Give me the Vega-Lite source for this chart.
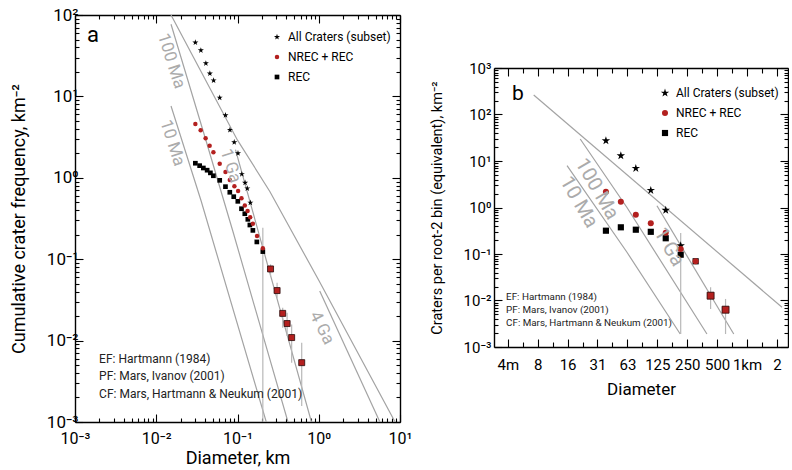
{
  "$schema": "https://vega.github.io/schema/vega-lite/v6.json",
  "padding": {"left": 10, "top": 6, "right": 0, "bottom": 0},
  "background": "white",
  "config": {
    "font": "Roboto",
    "view": {"stroke": null},
    "axis": {"grid": false, "domainColor": "#000", "domainWidth": 1.4, "tickColor": "#000", "tickWidth": 1.1, "labelColor": "#000", "titleColor": "#000", "titleFontWeight": "normal", "labelOverlap": false, "labelFlush": false},
    "text": {"font": "Roboto"}
  },
  "spacing": 17,
  "resolve": {
    "scale": {"x": "independent", "y": "independent", "color": "independent", "shape": "independent", "size": "independent"},
    "legend": {"color": "independent", "shape": "independent", "size": "independent"},
    "axis": {"x": "independent", "y": "independent"}
  },
  "datasets": {
    "a_pts": [
      {"set": "All Craters (subset)", "D": 0.0303, "N": 45.9},
      {"set": "All Craters (subset)", "D": 0.0354, "N": 36.8},
      {"set": "All Craters (subset)", "D": 0.0408, "N": 25.5},
      {"set": "All Craters (subset)", "D": 0.0457, "N": 19.1},
      {"set": "All Craters (subset)", "D": 0.0508, "N": 15.7},
      {"set": "All Craters (subset)", "D": 0.0604, "N": 9.64},
      {"set": "All Craters (subset)", "D": 0.0711, "N": 5.86},
      {"set": "All Craters (subset)", "D": 0.0807, "N": 3.87},
      {"set": "All Craters (subset)", "D": 0.0912, "N": 2.73},
      {"set": "All Craters (subset)", "D": 0.1014, "N": 2.0},
      {"set": "All Craters (subset)", "D": 0.113, "N": 1.11},
      {"set": "All Craters (subset)", "D": 0.124, "N": 0.869},
      {"set": "All Craters (subset)", "D": 0.132, "N": 0.739},
      {"set": "All Craters (subset)", "D": 0.144, "N": 0.494},
      {"set": "REC", "D": 0.0303, "N": 1.51},
      {"set": "REC", "D": 0.0342, "N": 1.41},
      {"set": "REC", "D": 0.038, "N": 1.32},
      {"set": "REC", "D": 0.0423, "N": 1.24},
      {"set": "REC", "D": 0.0464, "N": 1.15},
      {"set": "REC", "D": 0.0505, "N": 1.06},
      {"set": "REC", "D": 0.0604, "N": 0.931},
      {"set": "REC", "D": 0.0711, "N": 0.778},
      {"set": "REC", "D": 0.0804, "N": 0.664},
      {"set": "REC", "D": 0.0899, "N": 0.586},
      {"set": "REC", "D": 0.1009, "N": 0.514},
      {"set": "REC", "D": 0.112, "N": 0.417},
      {"set": "REC", "D": 0.123, "N": 0.362},
      {"set": "REC", "D": 0.134, "N": 0.309},
      {"set": "REC", "D": 0.142, "N": 0.263},
      {"set": "REC", "D": 0.1546, "N": 0.226},
      {"set": "REC", "D": 0.173, "N": 0.163},
      {"set": "REC", "D": 0.205, "N": 0.124},
      {"set": "REC", "D": 0.255, "N": 0.0759},
      {"set": "REC", "D": 0.307, "N": 0.0412},
      {"set": "REC", "D": 0.36, "N": 0.0216},
      {"set": "REC", "D": 0.408, "N": 0.0162},
      {"set": "REC", "D": 0.464, "N": 0.0109},
      {"set": "REC", "D": 0.617, "N": 0.00536},
      {"set": "NREC + REC", "D": 0.0303, "N": 4.58},
      {"set": "NREC + REC", "D": 0.0352, "N": 3.84},
      {"set": "NREC + REC", "D": 0.0405, "N": 3.06},
      {"set": "NREC + REC", "D": 0.0454, "N": 2.48},
      {"set": "NREC + REC", "D": 0.0505, "N": 2.06},
      {"set": "NREC + REC", "D": 0.0604, "N": 1.49},
      {"set": "NREC + REC", "D": 0.0711, "N": 1.18},
      {"set": "NREC + REC", "D": 0.0804, "N": 0.94},
      {"set": "NREC + REC", "D": 0.0916, "N": 0.787},
      {"set": "NREC + REC", "D": 0.1017, "N": 0.689},
      {"set": "NREC + REC", "D": 0.112, "N": 0.56},
      {"set": "NREC + REC", "D": 0.123, "N": 0.457},
      {"set": "NREC + REC", "D": 0.133, "N": 0.391},
      {"set": "NREC + REC", "D": 0.1433, "N": 0.327},
      {"set": "NREC + REC", "D": 0.1546, "N": 0.273},
      {"set": "NREC + REC", "D": 0.174, "N": 0.193},
      {"set": "NREC + REC", "D": 0.205, "N": 0.136},
      {"set": "NREC + REC", "D": 0.255, "N": 0.0759},
      {"set": "NREC + REC", "D": 0.307, "N": 0.0412},
      {"set": "NREC + REC", "D": 0.36, "N": 0.0216},
      {"set": "NREC + REC", "D": 0.408, "N": 0.0162},
      {"set": "NREC + REC", "D": 0.464, "N": 0.0109},
      {"set": "NREC + REC", "D": 0.617, "N": 0.00536}
    ],
    "a_err": [
      {"D": 0.205, "lo": 0.0003, "hi": 0.244},
      {"D": 0.255, "lo": 0.0622, "hi": 0.0865},
      {"D": 0.307, "lo": 0.0336, "hi": 0.0514},
      {"D": 0.36, "lo": 0.0144, "hi": 0.0254},
      {"D": 0.408, "lo": 0.0114, "hi": 0.022},
      {"D": 0.464, "lo": 0.00535, "hi": 0.0158},
      {"D": 0.617, "lo": 0.00157, "hi": 0.00942}
    ],
    "a_iso": [
      {"curve": "EF", "D": 0.0152, "N": 100},
      {"curve": "EF", "D": 0.1, "N": 2.9},
      {"curve": "EF", "D": 0.25, "N": 0.68},
      {"curve": "EF", "D": 1.0, "N": 0.055},
      {"curve": "EF", "D": 8.7, "N": 0.001},
      {"curve": "10 Ma", "D": 0.0152, "N": 7.62},
      {"curve": "10 Ma", "D": 0.0357, "N": 0.519},
      {"curve": "10 Ma", "D": 0.226, "N": 0.001},
      {"curve": "100 Ma", "D": 0.0152, "N": 77},
      {"curve": "100 Ma", "D": 0.0411, "N": 2.83},
      {"curve": "100 Ma", "D": 0.0875, "N": 0.222},
      {"curve": "100 Ma", "D": 0.418, "N": 0.001},
      {"curve": "1 Ga", "D": 0.0944, "N": 2.22},
      {"curve": "1 Ga", "D": 0.205, "N": 0.138},
      {"curve": "1 Ga", "D": 0.813, "N": 0.001},
      {"curve": "4 Ga", "D": 1.028, "N": 0.0407},
      {"curve": "4 Ga", "D": 5.66, "N": 0.001}
    ],
    "a_iso_lbl": [
      {"t": "100 Ma", "D": 0.0153, "N": 27.2},
      {"t": "10 Ma", "D": 0.0158, "N": 2.68},
      {"t": "1 Ga", "D": 0.082, "N": 1.4},
      {"t": "4 Ga", "D": 1.089, "N": 0.0143}
    ],
    "a_notes": [
      {"t": "EF: Hartmann (1984)", "D": 0.00198, "N": 0.00594},
      {"t": "PF: Mars, Ivanov (2001)", "D": 0.00198, "N": 0.00367},
      {"t": "CF: Mars, Hartmann & Neukum (2001)", "D": 0.00198, "N": 0.00223}
    ],
    "a_tag": [{"t": "a", "D": 0.00167, "N": 56.8}],
    "b_pts": [
      {"set": "All Craters (subset)", "D": 0.038, "N": 27.3},
      {"set": "All Craters (subset)", "D": 0.0537, "N": 13.0},
      {"set": "All Craters (subset)", "D": 0.076, "N": 6.96},
      {"set": "All Craters (subset)", "D": 0.1075, "N": 2.34},
      {"set": "All Craters (subset)", "D": 0.152, "N": 0.875},
      {"set": "All Craters (subset)", "D": 0.215, "N": 0.151},
      {"set": "REC", "D": 0.038, "N": 0.317},
      {"set": "REC", "D": 0.0537, "N": 0.375},
      {"set": "REC", "D": 0.076, "N": 0.333},
      {"set": "REC", "D": 0.1075, "N": 0.3},
      {"set": "REC", "D": 0.152, "N": 0.218},
      {"set": "REC", "D": 0.215, "N": 0.0966},
      {"set": "REC", "D": 0.304, "N": 0.0697},
      {"set": "REC", "D": 0.43, "N": 0.0127},
      {"set": "REC", "D": 0.608, "N": 0.00634},
      {"set": "NREC + REC", "D": 0.038, "N": 2.19},
      {"set": "NREC + REC", "D": 0.0537, "N": 1.33},
      {"set": "NREC + REC", "D": 0.076, "N": 0.697},
      {"set": "NREC + REC", "D": 0.1075, "N": 0.457},
      {"set": "NREC + REC", "D": 0.152, "N": 0.286},
      {"set": "NREC + REC", "D": 0.215, "N": 0.128},
      {"set": "NREC + REC", "D": 0.304, "N": 0.0697},
      {"set": "NREC + REC", "D": 0.43, "N": 0.0127},
      {"set": "NREC + REC", "D": 0.608, "N": 0.00634}
    ],
    "b_err": [
      {"D": 0.215, "lo": 0.0019, "hi": 0.283},
      {"D": 0.304, "lo": 0.062, "hi": 0.078},
      {"D": 0.43, "lo": 0.00656, "hi": 0.0192},
      {"D": 0.608, "lo": 0.0019, "hi": 0.0108}
    ],
    "b_iso": [
      {"curve": "EF", "D": 0.00713, "N": 262},
      {"curve": "EF", "D": 2.25, "N": 0.00714},
      {"curve": "10 Ma", "D": 0.01544, "N": 7.92},
      {"curve": "10 Ma", "D": 0.0619, "N": 0.109},
      {"curve": "10 Ma", "D": 0.2127, "N": 0.0019},
      {"curve": "100 Ma", "D": 0.02095, "N": 29.7},
      {"curve": "100 Ma", "D": 0.0619, "N": 1.0},
      {"curve": "100 Ma", "D": 0.395, "N": 0.0019},
      {"curve": "1 Ga", "D": 0.124, "N": 1.09},
      {"curve": "1 Ga", "D": 0.735, "N": 0.0019}
    ],
    "b_iso_lbl": [
      {"t": "100 Ma", "D": 0.0309, "N": 2.5},
      {"t": "10 Ma", "D": 0.0203, "N": 1.31},
      {"t": "1 Ga", "D": 0.164, "N": 0.1416}
    ],
    "b_notes": [
      {"t": "EF: Hartmann (1984)", "D": 0.00376, "N": 0.0121},
      {"t": "PF: Mars, Ivanov (2001)", "D": 0.00376, "N": 0.00625},
      {"t": "CF: Mars, Hartmann & Neukum (2001)", "D": 0.00376, "N": 0.00328}
    ],
    "b_tag": [{"t": "b", "D": 0.00495, "N": 276}]
  },
  "hconcat": [
    {
      "width": 325,
      "height": 407,
      "resolve": {"axis": {"x": "independent", "y": "independent"}},
      "layer": [
        {
          "data": {"name": "a_iso"},
          "mark": {"type": "line", "color": "#a3a3a3", "strokeWidth": 1.2, "clip": true},
          "encoding": {
            "x": {"field": "D", "type": "quantitative", "scale": {"type": "log", "domain": [0.001, 10], "nice": false},
              "axis": {"orient": "bottom", "values": [0.001, 0.01, 0.1, 1, 10], "labelExpr": "'10' + ['⁻³','⁻²','⁻¹','⁰','¹'][round(log(datum.value)/LN10)+3]", "tickSize": -8, "labelPadding": 16, "labelFontSize": 16, "title": "Diameter, km", "titleFontSize": 18, "titlePadding": 3}},
            "y": {"field": "N", "type": "quantitative", "scale": {"type": "log", "domain": [0.001, 100], "nice": false},
              "axis": {"orient": "left", "values": [0.001, 0.01, 0.1, 1, 10, 100], "labelExpr": "'10' + ['⁻³','⁻²','⁻¹','⁰','¹','²'][round(log(datum.value)/LN10)+3]", "tickSize": -8, "labelPadding": 5, "labelFontSize": 17, "title": "Cumulative crater frequency, km⁻²", "titleFontSize": 18, "titlePadding": 18}},
            "detail": {"field": "curve"}
          }
        },
        {
          "data": {"name": "a_err"},
          "mark": {"type": "rule", "color": "#b8b8b8", "strokeWidth": 1.2, "clip": true},
          "encoding": {
            "x": {"field": "D", "type": "quantitative", "scale": {"type": "log", "domain": [0.001, 10], "nice": false},
              "axis": {"orient": "bottom", "values": [0.002,0.003,0.004,0.005,0.006,0.007,0.008,0.009,0.02,0.03,0.04,0.05,0.06,0.07,0.08,0.09,0.2,0.3,0.4,0.5,0.6,0.7,0.8,0.9,2,3,4,5,6,7,8,9], "labels": false, "domain": false, "tickSize": -4, "title": null}},
            "y": {"field": "lo", "type": "quantitative", "scale": {"type": "log", "domain": [0.001, 100], "nice": false},
              "axis": {"orient": "left", "values": [0.002,0.003,0.004,0.005,0.006,0.007,0.008,0.009,0.02,0.03,0.04,0.05,0.06,0.07,0.08,0.09,0.2,0.3,0.4,0.5,0.6,0.7,0.8,0.9,2,3,4,5,6,7,8,9,20,30,40,50,60,70,80,90], "labels": false, "domain": false, "tickSize": -4, "title": null}},
            "y2": {"field": "hi"}
          }
        },
        {
          "data": {"name": "a_pts"},
          "mark": {"type": "point", "filled": true, "opacity": 1, "strokeWidth": 0},
          "encoding": {
            "x": {"field": "D", "type": "quantitative", "scale": {"type": "log", "domain": [0.001, 10], "nice": false},
              "axis": {"orient": "top", "values": [0.001, 0.01, 0.1, 1, 10], "labels": false, "tickSize": -8, "title": null}},
            "y": {"field": "N", "type": "quantitative", "scale": {"type": "log", "domain": [0.001, 100], "nice": false},
              "axis": {"orient": "right", "values": [0.001, 0.01, 0.1, 1, 10, 100], "labels": false, "tickSize": -8, "title": null}},
            "color": {"field": "set", "type": "nominal",
              "scale": {"domain": ["All Craters (subset)", "NREC + REC", "REC"], "range": ["#000000", "#b3201f", "#000000"]},
              "legend": {"title": null, "orient": "none", "legendX": 196, "legendY": 16, "symbolSize": 53, "labelFontSize": 12, "labelOffset": 5, "rowPadding": 8, "padding": 0, "symbolStrokeWidth": 0, "labelColor": "#000"}},
            "shape": {"field": "set", "type": "nominal",
              "scale": {"domain": ["All Craters (subset)", "NREC + REC", "REC"], "range": ["M0,-1.5L0.337,-0.464L1.427,-0.464L0.545,0.177L0.882,1.214L0,0.573L-0.882,1.214L-0.545,0.177L-1.427,-0.464L-0.337,-0.464Z", "circle", "square"]},
              "legend": {"title": null, "orient": "none", "legendX": 196, "legendY": 16, "symbolSize": 53, "labelFontSize": 12, "labelOffset": 5, "rowPadding": 8, "padding": 0, "symbolStrokeWidth": 0, "labelColor": "#000"}},
            "size": {"field": "set", "type": "ordinal",
              "scale": {"domain": ["All Craters (subset)", "NREC + REC", "REC"], "range": [18, 22, 24]}, "legend": null}
          }
        },
        {
          "data": {"name": "a_pts"},
          "transform": [{"filter": "datum.set == 'REC' && datum.D > 0.24"}],
          "mark": {"type": "point", "shape": "square", "filled": true, "color": "#b3201f", "size": 36, "stroke": "#2a0a0a", "strokeWidth": 0.8, "opacity": 1},
          "encoding": {
            "x": {"field": "D", "type": "quantitative", "scale": {"type": "log", "domain": [0.001, 10], "nice": false},
              "axis": {"orient": "top", "values": [0.002,0.003,0.004,0.005,0.006,0.007,0.008,0.009,0.02,0.03,0.04,0.05,0.06,0.07,0.08,0.09,0.2,0.3,0.4,0.5,0.6,0.7,0.8,0.9,2,3,4,5,6,7,8,9], "labels": false, "domain": false, "tickSize": -4, "title": null}},
            "y": {"field": "N", "type": "quantitative", "scale": {"type": "log", "domain": [0.001, 100], "nice": false},
              "axis": {"orient": "right", "values": [0.002,0.003,0.004,0.005,0.006,0.007,0.008,0.009,0.02,0.03,0.04,0.05,0.06,0.07,0.08,0.09,0.2,0.3,0.4,0.5,0.6,0.7,0.8,0.9,2,3,4,5,6,7,8,9,20,30,40,50,60,70,80,90], "labels": false, "domain": false, "tickSize": -4, "title": null}}
          }
        },
        {
          "data": {"name": "a_iso_lbl"},
          "transform": [{"filter": "datum.t != '4 Ga'"}],
          "mark": {"type": "text", "angle": 72, "fontSize": 17, "color": "#ababab", "align": "center", "baseline": "middle"},
          "encoding": {
            "x": {"field": "D", "type": "quantitative", "axis": null},
            "y": {"field": "N", "type": "quantitative", "axis": null},
            "text": {"field": "t"}
          }
        },
        {
          "data": {"name": "a_iso_lbl"},
          "transform": [{"filter": "datum.t == '4 Ga'"}],
          "mark": {"type": "text", "angle": 63, "fontSize": 17, "color": "#ababab", "align": "center", "baseline": "middle"},
          "encoding": {
            "x": {"field": "D", "type": "quantitative", "axis": null},
            "y": {"field": "N", "type": "quantitative", "axis": null},
            "text": {"field": "t"}
          }
        },
        {
          "data": {"name": "a_notes"},
          "mark": {"type": "text", "fontSize": 12, "color": "#222", "align": "left", "baseline": "middle"},
          "encoding": {
            "x": {"field": "D", "type": "quantitative", "axis": null},
            "y": {"field": "N", "type": "quantitative", "axis": null},
            "text": {"field": "t"}
          }
        },
        {
          "data": {"name": "a_tag"},
          "mark": {"type": "text", "fontSize": 22, "color": "#000", "align": "center", "baseline": "middle"},
          "encoding": {
            "x": {"field": "D", "type": "quantitative", "axis": null},
            "y": {"field": "N", "type": "quantitative", "axis": null},
            "text": {"field": "t"}
          }
        }
      ]
    },
    {
      "spacing": 0,
      "resolve": {
        "scale": {"x": "independent", "y": "independent", "color": "independent", "shape": "independent", "size": "independent"},
        "legend": {"color": "independent", "shape": "independent", "size": "independent"},
        "axis": {"x": "independent", "y": "independent"}
      },
      "vconcat": [
        {
          "width": 294,
          "height": 46,
          "data": {"values": []},
          "mark": {"type": "point", "opacity": 0}
        },
        {
          "width": 294,
          "height": 279,
          "resolve": {"axis": {"x": "independent", "y": "independent"}},
          "layer": [
            {
              "data": {"name": "b_iso"},
              "mark": {"type": "line", "color": "#a3a3a3", "strokeWidth": 1.2, "clip": true},
              "encoding": {
                "x": {"field": "D", "type": "quantitative", "scale": {"type": "log", "base": 2, "domain": [0.00284, 2.585], "nice": false},
                  "axis": {"orient": "bottom", "values": [0.00390625, 0.0078125, 0.015625, 0.03125, 0.0625, 0.125, 0.25, 0.5, 1, 2], "labelExpr": "['4m','8','16','31','63','125','250','500','1km','2'][round(log(datum.value)/LN2)+8]", "tickSize": -8, "labelPadding": 18, "labelFontSize": 15, "title": "Diameter", "titleFontSize": 17, "titlePadding": 9}},
                "y": {"field": "N", "type": "quantitative", "scale": {"type": "log", "domain": [0.001, 1000], "nice": false},
                  "axis": {"orient": "left", "values": [0.001, 0.01, 0.1, 1, 10, 100, 1000], "labelExpr": "'10' + ['⁻³','⁻²','⁻¹','⁰','¹','²','³'][round(log(datum.value)/LN10)+3]", "tickSize": -8, "labelPadding": 11, "labelFontSize": 15, "title": "Craters per root-2 bin (equivalent), km⁻²", "titleFontSize": 14.5, "titlePadding": 19}},
                "detail": {"field": "curve"}
              }
            },
            {
              "data": {"name": "b_err"},
              "mark": {"type": "rule", "color": "#b8b8b8", "strokeWidth": 1.2, "clip": true},
              "encoding": {
                "x": {"field": "D", "type": "quantitative", "scale": {"type": "log", "base": 2, "domain": [0.00284, 2.585], "nice": false},
                  "axis": {"orient": "bottom", "values": [0.005524, 0.011049, 0.022097, 0.044194, 0.088388, 0.176777, 0.353553, 0.707107, 1.414214], "labels": false, "domain": false, "tickSize": -5, "title": null}},
                "y": {"field": "lo", "type": "quantitative", "scale": {"type": "log", "domain": [0.001, 1000], "nice": false},
                  "axis": {"orient": "left", "values": [0.002,0.003,0.004,0.005,0.006,0.007,0.008,0.009,0.02,0.03,0.04,0.05,0.06,0.07,0.08,0.09,0.2,0.3,0.4,0.5,0.6,0.7,0.8,0.9,2,3,4,5,6,7,8,9,20,30,40,50,60,70,80,90,200,300,400,500,600,700,800,900], "labels": false, "domain": false, "tickSize": -4, "title": null}},
                "y2": {"field": "hi"}
              }
            },
            {
              "data": {"name": "b_pts"},
              "mark": {"type": "point", "filled": true, "opacity": 1, "strokeWidth": 0},
              "encoding": {
                "x": {"field": "D", "type": "quantitative", "scale": {"type": "log", "base": 2, "domain": [0.00284, 2.585], "nice": false},
                  "axis": {"orient": "top", "values": [0.00390625, 0.0078125, 0.015625, 0.03125, 0.0625, 0.125, 0.25, 0.5, 1, 2], "labels": false, "tickSize": -8, "title": null}},
                "y": {"field": "N", "type": "quantitative", "scale": {"type": "log", "domain": [0.001, 1000], "nice": false},
                  "axis": {"orient": "right", "values": [0.001, 0.01, 0.1, 1, 10, 100, 1000], "labels": false, "tickSize": -8, "title": null}},
                "color": {"field": "set", "type": "nominal",
                  "scale": {"domain": ["All Craters (subset)", "NREC + REC", "REC"], "range": ["#000000", "#b3201f", "#000000"]},
                  "legend": {"title": null, "orient": "none", "legendX": 165, "legendY": 19, "symbolSize": 53, "labelFontSize": 12, "labelOffset": 5, "rowPadding": 8, "padding": 0, "symbolStrokeWidth": 0, "labelColor": "#000"}},
                "shape": {"field": "set", "type": "nominal",
                  "scale": {"domain": ["All Craters (subset)", "NREC + REC", "REC"], "range": ["M0,-1.5L0.337,-0.464L1.427,-0.464L0.545,0.177L0.882,1.214L0,0.573L-0.882,1.214L-0.545,0.177L-1.427,-0.464L-0.337,-0.464Z", "circle", "square"]},
                  "legend": {"title": null, "orient": "none", "legendX": 165, "legendY": 19, "symbolSize": 53, "labelFontSize": 12, "labelOffset": 5, "rowPadding": 8, "padding": 0, "symbolStrokeWidth": 0, "labelColor": "#000"}},
                "size": {"field": "set", "type": "ordinal",
                  "scale": {"domain": ["All Craters (subset)", "NREC + REC", "REC"], "range": [35, 38, 42]}, "legend": null}
              }
            },
            {
              "data": {"name": "b_pts"},
              "transform": [{"filter": "datum.set == 'REC' && datum.D > 0.4"}],
              "mark": {"type": "point", "shape": "square", "filled": true, "color": "#b3201f", "size": 49, "stroke": "#2a0a0a", "strokeWidth": 0.8, "opacity": 1},
              "encoding": {
                "x": {"field": "D", "type": "quantitative", "scale": {"type": "log", "base": 2, "domain": [0.00284, 2.585], "nice": false},
                  "axis": {"orient": "top", "values": [0.005524, 0.011049, 0.022097, 0.044194, 0.088388, 0.176777, 0.353553, 0.707107, 1.414214], "labels": false, "domain": false, "tickSize": -5, "title": null}},
                "y": {"field": "N", "type": "quantitative", "scale": {"type": "log", "domain": [0.001, 1000], "nice": false},
                  "axis": {"orient": "right", "values": [0.002,0.003,0.004,0.005,0.006,0.007,0.008,0.009,0.02,0.03,0.04,0.05,0.06,0.07,0.08,0.09,0.2,0.3,0.4,0.5,0.6,0.7,0.8,0.9,2,3,4,5,6,7,8,9,20,30,40,50,60,70,80,90,200,300,400,500,600,700,800,900], "labels": false, "domain": false, "tickSize": -4, "title": null}}
              }
            },
            {
              "data": {"name": "b_iso_lbl"},
              "mark": {"type": "text", "angle": 60, "fontSize": 20, "color": "#ababab", "align": "center", "baseline": "middle"},
              "encoding": {
                "x": {"field": "D", "type": "quantitative", "axis": null},
                "y": {"field": "N", "type": "quantitative", "axis": null},
                "text": {"field": "t"}
              }
            },
            {
              "data": {"name": "b_notes"},
              "mark": {"type": "text", "fontSize": 9.8, "color": "#222", "align": "left", "baseline": "middle"},
              "encoding": {
                "x": {"field": "D", "type": "quantitative", "axis": null},
                "y": {"field": "N", "type": "quantitative", "axis": null},
                "text": {"field": "t"}
              }
            },
            {
              "data": {"name": "b_tag"},
              "mark": {"type": "text", "fontSize": 21, "color": "#000", "align": "center", "baseline": "middle"},
              "encoding": {
                "x": {"field": "D", "type": "quantitative", "axis": null},
                "y": {"field": "N", "type": "quantitative", "axis": null},
                "text": {"field": "t"}
              }
            }
          ]
        }
      ]
    }
  ]
}
